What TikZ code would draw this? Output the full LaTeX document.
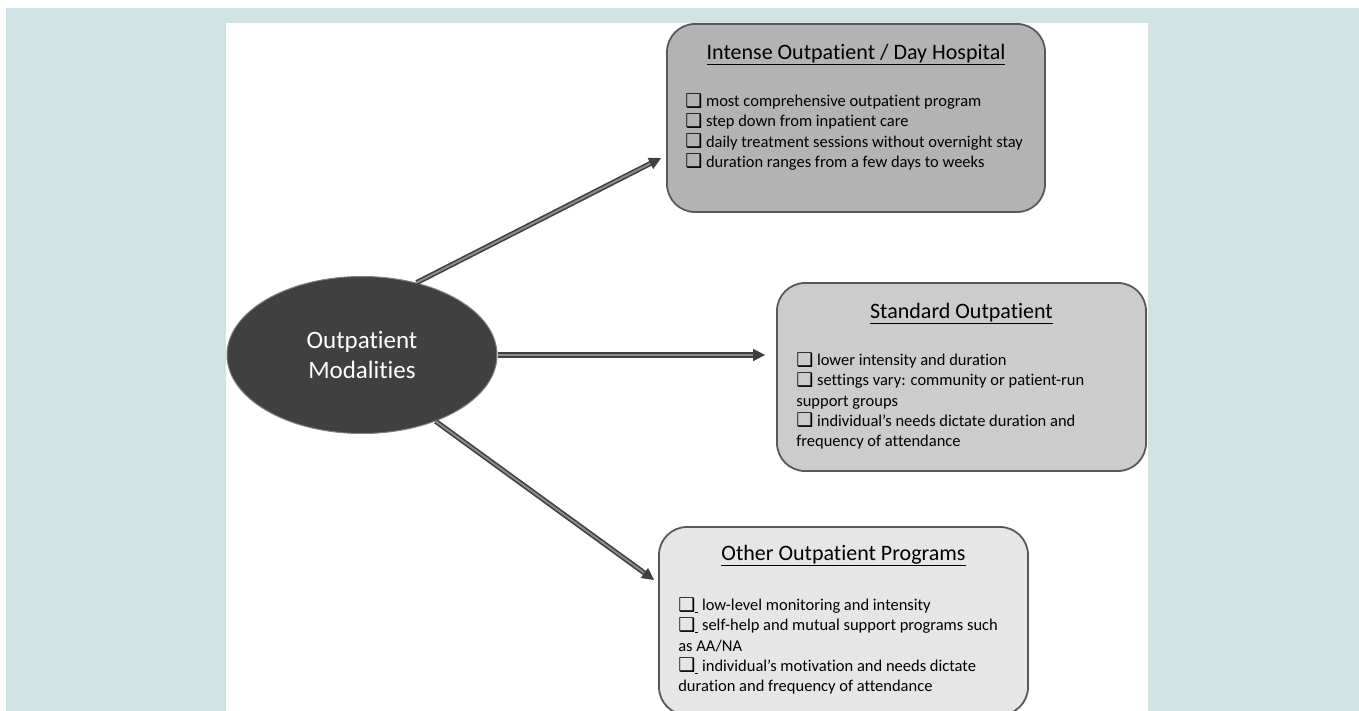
\documentclass[tikz,border=0pt]{standalone}
\usepackage{fontspec}
\setmainfont{Carlito}[Ligatures={TeX,NoCommon,NoContextual,NoRare}]
\newfontfamily\boxsym{DejaVu Sans}
\usetikzlibrary{arrows.meta,shapes.geometric,positioning}

\definecolor{tealbg}{HTML}{D1E2E2}
\definecolor{boxline}{HTML}{595959}
\definecolor{intensefill}{HTML}{B3B3B3}
\definecolor{standardfill}{HTML}{CCCCCC}
\definecolor{otherfill}{HTML}{E6E6E6}
\definecolor{ovalfill}{HTML}{404040}
\definecolor{ovalline}{HTML}{808080}
\definecolor{arrowdark}{HTML}{404040}
\definecolor{arrowlight}{HTML}{8C8C8C}

\newcommand{\chk}{\smash{\raisebox{-0.5pt}{\boxsym\fontsize{19}{19}\selectfont ❑}}\ }
\newcommand{\chku}{\smash{\raisebox{-0.5pt}{\boxsym\fontsize{19}{19}\selectfont ❑}}\underline{\hspace{3pt}}\ }

\tikzset{
	prog/.style={draw=boxline, line width=1.8pt, rounded corners=28pt, minimum height=188pt},
	progtitle/.style={font=\fontsize{22}{26}\selectfont, anchor=base, inner sep=0pt},
	proglist/.style={font=\fontsize{16.5}{20.2}\selectfont, align=left, anchor=north west, inner sep=0pt},
	flow/.style={draw=arrowdark, line width=1.6pt, double=arrowlight, double distance=1.9pt, -{Triangle[length=12pt,width=12pt]}}
}

\begin{document}
\begin{tikzpicture}[x=1pt,y=-1pt]
		\useasboundingbox (0,0) rectangle (1359,711);
		\fill[tealbg] (6,8) rectangle (1359,711);
		\fill[white] (226,23) rectangle (1148,711);

		% centre oval
		\node[ellipse, fill=ovalfill, draw=ovalline, line width=1pt, minimum width=270pt, minimum height=157pt, text=white, align=center, font=\fontsize{25}{30}\selectfont] (modal) at (362,355) {Outpatient\\Modalities};

		% the three programs
		\node[prog, fill=intensefill, minimum width=378pt] (intense) at (856,118) {};
		\node[prog, fill=standardfill, minimum width=369pt] (standard) at (961.5,377) {};
		\node[prog, fill=otherfill, minimum width=369pt] (other) at (843.5,621) {};

		\node[progtitle] (intensetitle) at ([yshift=-36pt]intense.north) {\underline{Intense Outpatient / Day Hospital}};
		\node[progtitle] (standardtitle) at ([yshift=-36pt]standard.north) {\underline{Standard Outpatient}};
		\node[progtitle] (othertitle) at ([yshift=-34pt]other.north) {\underline{Other Outpatient Programs}};

		\node[proglist] (intenselist) at ([shift={(19pt,-72pt)}]intense.north west) {\chk most comprehensive outpatient program\\\chk step down from inpatient care\\\chk daily treatment sessions without overnight stay\\\chk duration ranges from a few days to weeks};
		\node[proglist] (standardlist) at ([shift={(20pt,-72pt)}]standard.north west) {\chk lower intensity and duration\\\chk settings vary: community or patient-run\\support groups\\\chk individual's needs dictate duration and\\frequency of attendance};
		\node[proglist] (otherlist) at ([shift={(20pt,-73pt)}]other.north west) {\chku low-level monitoring and intensity\\\chku self-help and mutual support programs such\\as AA/NA\\\chku individual's motivation and needs dictate\\duration and frequency of attendance};

		% arrows
		\draw[flow] (modal.53) -- ([shift={(-5pt,-40pt)}]intense.west);
		\draw[flow] (modal.east) -- ([xshift=-11pt]standard.west |- modal.east);
		\draw[flow] (modal.-42) -- ([shift={(-4pt,41pt)}]other.west);
	\end{tikzpicture}
\end{document}
